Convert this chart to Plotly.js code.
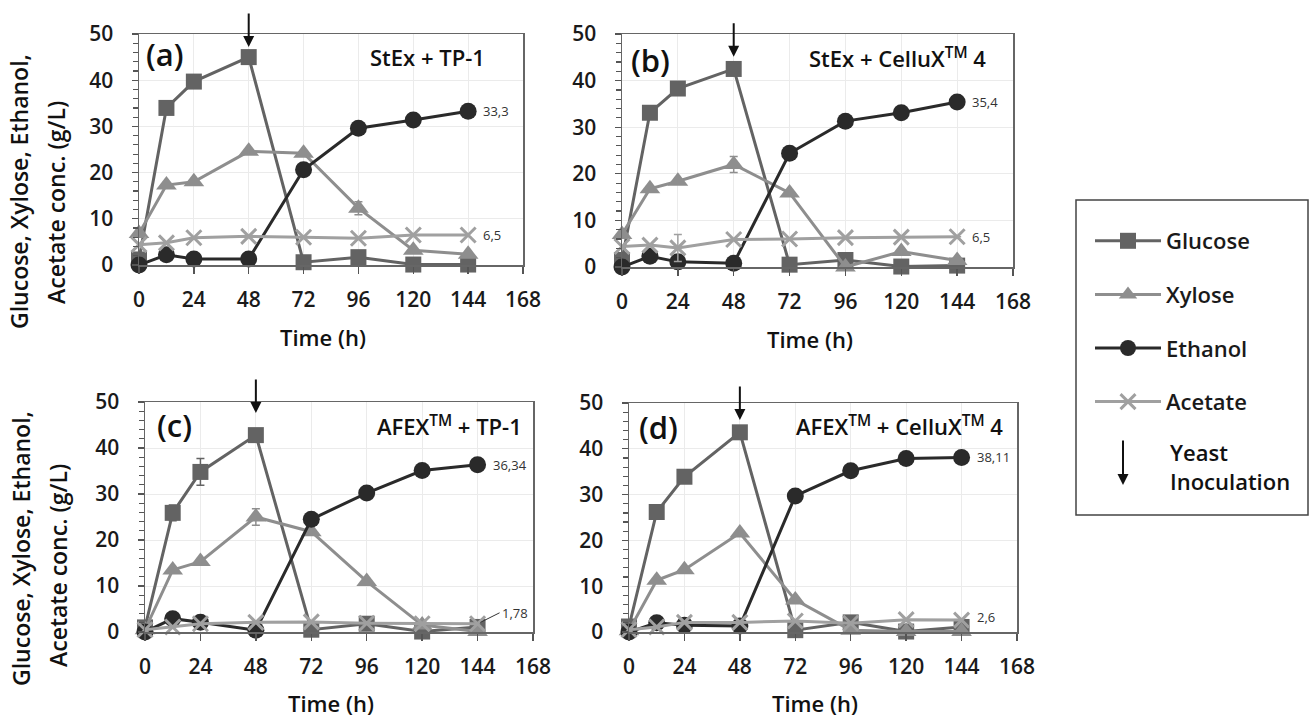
<!DOCTYPE html>
<html>
<head>
<meta charset="utf-8">
<script src="https://cdn.plot.ly/plotly-3.0.1.min.js"></script>
<style>html,body{margin:0;padding:0;background:#fff;}#chart{width:1311px;height:718px;}</style>
</head>
<body>
<div id="chart"></div>
<script>
// ---- data ----
const time = [0, 12, 24, 48, 72, 96, 120, 144];
const seriesNames = ['Glucose', 'Xylose', 'Ethanol', 'Acetate'];

const glucoseA = [1.2, 34.0, 39.7, 45.0, 0.6, 1.7, 0.1, 0.1];
const xyloseA  = [6.8, 17.3, 18.0, 24.6, 24.2, 12.3, 3.2, 2.3];
const ethanolA = [0.0, 2.2, 1.3, 1.3, 20.6, 29.6, 31.4, 33.3];
const acetateA = [4.4, 4.8, 5.9, 6.2, 6.0, 5.8, 6.5, 6.5];
const xyloseAErr = [0, 0, 0, 0, 0, 1.4, 0, 0];

const glucoseB = [1.5, 33.1, 38.3, 42.5, 0.5, 1.5, 0.1, 0.3];
const xyloseB  = [7.0, 16.8, 18.4, 22.0, 15.9, 0.0, 3.3, 1.4];
const ethanolB = [0.0, 2.3, 1.1, 0.8, 24.4, 31.3, 33.1, 35.4];
const acetateB = [4.4, 4.7, 4.1, 5.9, 6.0, 6.3, 6.4, 6.5];
const xyloseBErr  = [0, 0, 0, 1.7, 0, 0, 0, 0];
const acetateBErr = [0, 0, 2.9, 0, 0, 0, 0, 0];

const glucoseC = [1.0, 25.9, 34.8, 42.8, 0.5, 1.8, 0.1, 1.1];
const xyloseC  = [0.5, 13.5, 15.3, 25.0, 21.8, 11.0, 1.5, 0.1];
const ethanolC = [0.0, 2.9, 2.1, 0.4, 24.5, 30.2, 35.1, 36.34];
const acetateC = [0.5, 1.1, 1.8, 2.1, 2.2, 1.9, 1.8, 1.78];
const glucoseCErr = [0, 1.7, 2.9, 0, 0, 0, 0, 0];
const xyloseCErr  = [0, 0, 0, 1.8, 0, 0, 0, 0];

const glucoseD = [1.2, 26.2, 33.9, 43.6, 0.4, 2.1, 0.1, 1.1];
const xyloseD  = [0.3, 11.3, 13.6, 21.6, 7.0, 0.4, 0.1, 0.1];
const ethanolD = [0.0, 2.0, 1.5, 1.3, 29.7, 35.2, 37.9, 38.11];
const acetateD = [0.5, 1.1, 2.1, 2.1, 2.4, 1.9, 2.7, 2.6];

const panelLetters = ['(a)', '(b)', '(c)', '(d)'];
const panelTitles = ['StEx + TP-1', 'StEx + CelluX<sup>TM</sup> 4',
                     'AFEX<sup>TM</sup> + TP-1', 'AFEX<sup>TM</sup> + CelluX<sup>TM</sup> 4'];
const inoculationTime = 48;
const arrowTip = [47.2, 45.1, 47.6, 46.3];
const ethanolEndLabels = ['33,3', '35,4', '36,34', '38,11'];
const acetateEndLabels = ['6,5', '6,5', '1,78', '2,6'];
const xTicks = [0, 24, 48, 72, 96, 120, 144, 168];
const yTicks = [0, 10, 20, 30, 40, 50];
const yTitleLines = ['Glucose, Xylose, Ethanol,', 'Acetate conc. (g/L)'];

// ---- styling ----
const FONT = 'Open Sans, Noto Sans, sans-serif';
const colors = {Glucose: '#636363', Xylose: '#8e8e8e', Ethanol: '#2a2a2a', Acetate: '#a0a0a0'};
const markers = {
  Glucose: {symbol: 'square', size: 16},
  Xylose: {symbol: 'triangle-up', size: 18},
  Ethanol: {symbol: 'circle', size: 17},
  Acetate: {symbol: 'x-thin', size: 15}
};

const panels = [
  {data: [glucoseA, xyloseA, ethanolA, acetateA], err: [null, xyloseAErr, null, null]},
  {data: [glucoseB, xyloseB, ethanolB, acetateB], err: [null, xyloseBErr, null, acetateBErr]},
  {data: [glucoseC, xyloseC, ethanolC, acetateC], err: [glucoseCErr, xyloseCErr, null, null]},
  {data: [glucoseD, xyloseD, ethanolD, acetateD], err: [null, null, null, null]}
];

const domains = [
  {x: [139/1311, 523/1311], y: [1-265/718, 1-34/718]},
  {x: [622/1311, 1013/1311], y: [1-267/718, 1-34/718]},
  {x: [145/1311, 533/1311], y: [1-632/718, 1-402/718]},
  {x: [629/1311, 1017/1311], y: [1-632/718, 1-403/718]}
];
const letterX = [0.012, 0.018, 0.026, 0.02];
const letterY = [0.915, 0.89, 0.9, 0.895];
const titleX = [0.906, 0.936, 0.977, 0.969];

const traces = [];
const layout = {
  width: 1311, height: 718,
  margin: {l: 0, r: 0, t: 0, b: 0},
  paper_bgcolor: '#fff', plot_bgcolor: '#fff',
  font: {family: FONT, size: 20, color: '#1a1a1a'},
  showlegend: true,
  legend: {
    x: 1090/1311, y: 1-220/718, xanchor: 'left', yanchor: 'top',
    font: {family: FONT, size: 22, color: '#1a1a1a', weight: 600},
    itemwidth: 66, tracegroupgap: 22, bgcolor: 'rgba(0,0,0,0)', borderwidth: 0
  },
  annotations: [],
  shapes: [{
    type: 'rect', xref: 'paper', yref: 'paper',
    x0: 1076/1311, x1: 1308/1311, y0: 1-515/718, y1: 1-200/718,
    line: {color: '#444', width: 1.5}, fillcolor: 'rgba(0,0,0,0)'
  }]
};

panels.forEach((p, i) => {
  const xa = i === 0 ? 'x' : 'x' + (i + 1);
  const ya = i === 0 ? 'y' : 'y' + (i + 1);
  seriesNames.forEach((name, k) => {
    const tr = {
      type: 'scatter', mode: 'lines+markers',
      x: time, y: p.data[k], xaxis: xa, yaxis: ya,
      name: name, legendgroup: name, showlegend: i === 0,
      cliponaxis: false,
      line: {color: colors[name], width: 3},
      marker: {symbol: markers[name].symbol, size: markers[name].size, color: colors[name],
               line: {color: colors[name], width: name === 'Acetate' ? 3 : 0}}
    };
    if (p.err[k]) {
      tr.error_y = {type: 'data', array: p.err[k], visible: true, color: colors[name], thickness: 1.5, width: 4};
    }
    traces.push(tr);
  });

  const axKey = i === 0 ? 'xaxis' : 'xaxis' + (i + 1);
  const ayKey = i === 0 ? 'yaxis' : 'yaxis' + (i + 1);
  layout[axKey] = {
    domain: domains[i].x, anchor: ya, range: [0, 168], tickvals: xTicks,
    showgrid: true, gridcolor: '#ebebeb', gridwidth: 1,
    showline: true, linecolor: '#666', linewidth: 1.5, mirror: true,
    ticks: 'outside', ticklen: 7, tickcolor: '#555', tickwidth: 1.5,
    zeroline: false, ticklabelstandoff: 8,
    tickfont: {family: FONT, size: 21, color: '#1a1a1a', weight: 600}
  };
  layout[ayKey] = {
    domain: domains[i].y, anchor: xa, range: [0, 50], tickvals: yTicks,
    showgrid: true, gridcolor: '#ebebeb', gridwidth: 1,
    showline: true, linecolor: '#666', linewidth: 1.5, mirror: true,
    ticks: 'outside', ticklen: 6, tickcolor: '#555', tickwidth: 1.2,
    minor: {dtick: 2, ticks: 'outside', ticklen: 5, tickcolor: '#555', showgrid: false},
    zeroline: false, ticklabelstandoff: 14,
    tickfont: {family: FONT, size: 21, color: '#1a1a1a', weight: 600}
  };

  const xd = xa + ' domain', yd = ya + ' domain';
  layout.annotations.push(
    {xref: xd, yref: yd, x: letterX[i], y: letterY[i], xanchor: 'left', yanchor: 'middle', showarrow: false,
     text: panelLetters[i], font: {family: FONT, size: 31, color: '#111', weight: 600}},
    {xref: xd, yref: yd, x: titleX[i], y: 0.9, xanchor: 'right', yanchor: 'middle', showarrow: false,
     text: panelTitles[i], font: {family: FONT, size: 22, color: '#111', weight: 600}},
    {xref: xd, yref: yd, x: 0.48, y: -0.31, xanchor: 'center', yanchor: 'middle', showarrow: false,
     text: 'Time (h)', font: {family: FONT, size: 22, color: '#111', weight: 600}},
    {xref: xa, yref: ya, x: inoculationTime, y: arrowTip[i], ax: 0, ay: -35, text: '',
     showarrow: true, arrowhead: 2, arrowsize: 1.1, arrowwidth: 2, arrowcolor: '#111', standoff: 0},
    {xref: xa, yref: ya, x: time[time.length - 1], y: p.data[2][time.length - 1], xanchor: 'left',
     xshift: 13, showarrow: false, text: ethanolEndLabels[i],
     font: {family: FONT, size: 13, color: '#333'}}
  );
  if (i === 2) {
    layout.annotations.push({xref: xa, yref: ya, x: time[time.length - 1], y: p.data[3][time.length - 1],
      ax: 22, ay: -11, xanchor: 'left', showarrow: true, arrowhead: 0, arrowwidth: 1, arrowcolor: '#333',
      standoff: 3, text: acetateEndLabels[i], font: {family: FONT, size: 13, color: '#333'}});
  } else {
    layout.annotations.push({xref: xa, yref: ya, x: time[time.length - 1], y: p.data[3][time.length - 1],
      xanchor: 'left', xshift: 13, yshift: i === 3 ? 3 : 0, showarrow: false, text: acetateEndLabels[i],
      font: {family: FONT, size: 13, color: '#333'}});
  }
});

// y-axis titles (left column), one annotation per line
const yTitlePos = [
  {x: [19, 56], y: [192, 203]},
  {x: [21, 58], y: [549, 566]}
];
yTitlePos.forEach(pos => {
  yTitleLines.forEach((line, j) => {
    layout.annotations.push({xref: 'paper', yref: 'paper', x: pos.x[j]/1311, y: 1 - pos.y[j]/718,
      xanchor: 'center', yanchor: 'middle', textangle: -90, showarrow: false,
      text: line, font: {family: FONT, size: 23, color: '#111', weight: 600}});
  });
});

// legend extra entry: yeast inoculation
layout.annotations.push(
  {xref: 'paper', yref: 'paper', x: 1123/1311, y: 1-485/718, ax: 0, ay: -46, text: '', showarrow: true,
   arrowhead: 2, arrowsize: 1.1, arrowwidth: 2, arrowcolor: '#111', standoff: 0},
  {xref: 'paper', yref: 'paper', x: 1168/1311, y: 1-466/718, xanchor: 'left', yanchor: 'middle', align: 'left',
   showarrow: false, text: 'Yeast<br>Inoculation', font: {family: FONT, size: 22, color: '#111', weight: 600}}
);

Plotly.newPlot('chart', traces, layout, {displayModeBar: false, staticPlot: true});
</script>
</body>
</html>
